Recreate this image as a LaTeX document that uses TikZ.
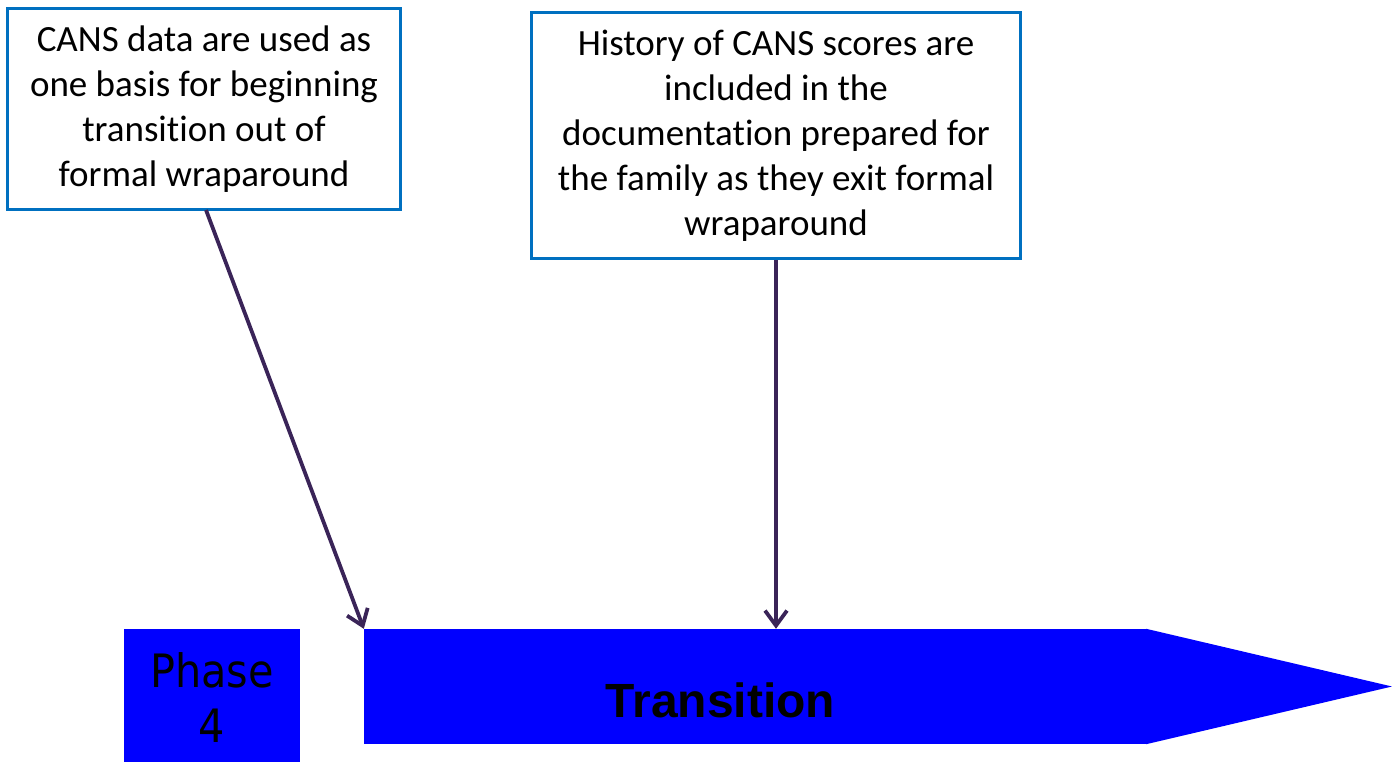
\documentclass[tikz,border=0pt]{standalone}
\usepackage{fontspec}
\setmainfont{Carlito}[Ligatures=NoCommon]
\newfontfamily\phasefont{DejaVu Sans Condensed}
\newfontfamily\transfont{Liberation Sans}
\usetikzlibrary{arrows.meta}
\definecolor{boxblue}{RGB}{0,112,192}
\definecolor{linkpurple}{RGB}{58,36,88}
\definecolor{phaseblue}{RGB}{0,0,255}
\tikzset{
  notebox/.style={draw=boxblue, line width=3.2pt, fill=white, align=center,
    inner sep=0pt, font=\fontsize{37}{45}\selectfont},
  link/.style={draw=linkpurple, line width=3.8pt,
    -{Straight Barb[length=15pt,width=22pt,line width=3.8pt]}},
  bar/.style={fill=phaseblue, draw=none, inner sep=0pt}
}
\begin{document}
\begin{tikzpicture}[x=1pt,y=-1pt]
\useasboundingbox (0,0) rectangle (1392,762);
% callout boxes
\node[notebox, minimum width=393pt, minimum height=201pt] (note1) at (204,109)
  {CANS data are used as\\one basis for beginning\\transition out of\\formal wraparound};
\node[notebox, minimum width=489pt, minimum height=246pt] (note2) at (776,135.5)
  {History of CANS scores are\\included in the\\documentation prepared for\\the family as they exit formal\\wraparound};
% phase label
\node[bar, minimum width=176pt, minimum height=135pt] (phase) at (212,696.5) {};
\node[font=\phasefont\fontsize{46}{55}\selectfont, align=center, anchor=base] (phasetext) at (212,742) {Phase\\4};
% transition arrow body and point
\node[bar, minimum width=782pt, minimum height=115pt] (trans) at (755,686.5) {};
\fill[phaseblue] (trans.north east) -- (1392,686.5) -- (trans.south east) -- cycle;
\node[font=\transfont\bfseries\fontsize{48}{55}\selectfont, anchor=base] (transtext) at (720.5,717) {Transition};
% connectors
\coordinate (from1) at (206,210);
\draw[link] (from1) -- (trans.north west);
\draw[link] (note2.south) -- (trans.north -| note2.south);
\end{tikzpicture}
\end{document}
